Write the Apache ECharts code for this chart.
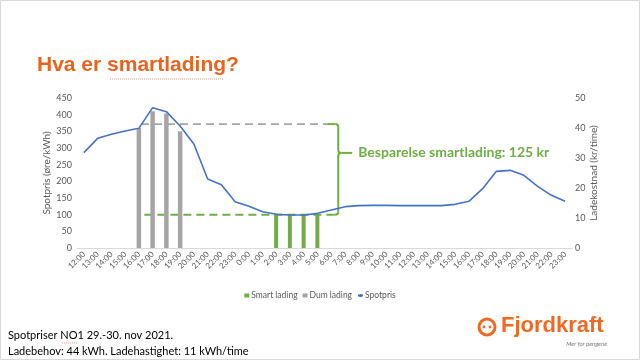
<!DOCTYPE html>
<html>
<head>
<meta charset="utf-8">
<script src="https://cdn.jsdelivr.net/npm/echarts@6/dist/echarts.min.js"></script>
<style>
html,body{margin:0;padding:0;background:#fff;}
#c{width:640px;height:361px;}
</style>
</head>
<body>
<div id="c"></div>
<script>
// ---- data ----
const hours = ['12:00','13:00','14:00','15:00','16:00','17:00','18:00','19:00','20:00','21:00','22:00','23:00',
  '0:00','1:00','2:00','3:00','4:00','5:00','6:00','7:00','8:00','9:00','10:00','11:00',
  '12:00','13:00','14:00','15:00','16:00','17:00','18:00','19:00','20:00','21:00','22:00','23:00'];
const spotpris = [286,329,341,351,359,421,409,366,312,207,190,139,
  125,109,101,99,99,104,114,124,127,128,128,127,
  127,127,127,131,140,178,230,233,218,185,158,140];
const smartLading = [null,null,null,null,null,null,null,null,null,null,null,null,
  null,null,11.1,11.1,11.1,11.1,null,null,null,null,null,null,
  null,null,null,null,null,null,null,null,null,null,null,null];
const dumLading = [null,null,null,null,40,45.6,44.8,38.9,null,null,null,null,
  null,null,null,null,null,null,null,null,null,null,null,null,
  null,null,null,null,null,null,null,null,null,null,null,null];
const leftTicks = {min:0, max:450, interval:50};
const rightTicks = {min:0, max:50, interval:10};
const avgDum = 41.3;     // kr/time level of gray dashed line
const avgSmart = 11.1;   // kr/time level of green dashed line
const savingText = 'Besparelse smartlading: 125 kr';

const GRAY = '#595959';
const FONT = 'Lato, "Liberation Sans", sans-serif';

const chart = echarts.init(document.getElementById('c'), null, {renderer:'canvas'});
chart.setOption({
  animation:false,
  textStyle:{fontFamily:FONT},
  grid:{left:77, right:68, top:98, bottom:113, containLabel:false},
  legend:{
    top:286, left:'center',
    itemWidth:5, itemHeight:4, itemGap:5,
    textStyle:{fontSize:8.5, color:GRAY, fontFamily:FONT, padding:[0,0,0,-3]},
    data:[{name:'Smart lading', icon:'rect'},{name:'Dum lading', icon:'rect'},{name:'Spotpris'}]
  },
  xAxis:{
    type:'category', data:hours, boundaryGap:true,
    axisLine:{lineStyle:{color:'#D9D9D9', width:1}},
    axisTick:{show:false},
    axisLabel:{rotate:45, interval:0, fontSize:8, color:GRAY, margin:5, fontFamily:FONT}
  },
  yAxis:[{
    type:'value', min:leftTicks.min, max:leftTicks.max, interval:leftTicks.interval,
    splitLine:{show:false}, axisLine:{show:false}, axisTick:{show:false},
    axisLabel:{fontSize:9, color:GRAY, margin:5, fontFamily:FONT},
    name:'Spotpris (øre/kWh)', nameLocation:'middle', nameRotate:90, nameGap:25, nameMoveOverlap:false,
    nameTextStyle:{fontSize:10, color:GRAY, fontFamily:FONT}
  },{
    type:'value', min:rightTicks.min, max:rightTicks.max, interval:rightTicks.interval,
    splitLine:{show:false}, axisLine:{show:false}, axisTick:{show:false},
    axisLabel:{fontSize:9, color:GRAY, margin:3, fontFamily:FONT},
    name:'Ladekostnad (kr/time)', nameLocation:'middle', nameRotate:90, nameGap:17, nameMoveOverlap:false,
    nameTextStyle:{fontSize:10, color:GRAY, fontFamily:FONT}
  }],
  series:[{
    name:'Smart lading', type:'bar', yAxisIndex:1, data:smartLading,
    barWidth:4, barGap:'-100%', itemStyle:{color:'#70AD47'}
  },{
    name:'Dum lading', type:'bar', yAxisIndex:1, data:dumLading,
    barWidth:4.5, itemStyle:{color:'#A5A5A5'}
  },{
    name:'Spotpris', type:'line', yAxisIndex:0, data:spotpris,
    showSymbol:false, symbol:'none', lineStyle:{color:'#4472C4', width:1.6}, itemStyle:{color:'#4472C4'}
  }]
});

// ---- annotation (positions from axis scales) ----
function pt(idx, val){
  const i0 = Math.floor(idx), f = idx - i0;
  const a = chart.convertToPixel({xAxisIndex:0, yAxisIndex:1}, [i0, val]);
  const b = chart.convertToPixel({xAxisIndex:0, yAxisIndex:1}, [i0+1, val]);
  return [a[0] + (b[0]-a[0])*f, a[1]];
}
const gA = pt(4.15, avgDum), gB = pt(17.7, avgDum);
const sA = pt(4.4, avgSmart), sB = pt(18.15, avgSmart);
const bx = pt(18.5, avgDum)[0];
const yTop = gA[1], yBot = sA[1];
const yMid = pt(18.5, 31.7)[1];
const G = '#70AD47';
const bStyle = {stroke:G, lineWidth:2, fill:null};

chart.setOption({
  graphic:[
    {type:'line', shape:{x1:gA[0], y1:gA[1], x2:gB[0], y2:gB[1]}, style:{stroke:'#A5A5A5', lineWidth:1.6, lineDash:[8,5]}, silent:true},
    {type:'line', shape:{x1:sA[0], y1:sA[1], x2:sB[0], y2:sB[1]}, style:{stroke:G, lineWidth:2, lineDash:[8,5]}, silent:true},
    // curly bracket
    {type:'line', shape:{x1:gB[0], y1:yTop, x2:bx-3, y2:yTop}, style:bStyle, silent:true},
    {type:'bezierCurve', shape:{x1:bx-3, y1:yTop, cpx1:bx, cpy1:yTop, x2:bx, y2:yTop+3}, style:bStyle, silent:true},
    {type:'line', shape:{x1:bx, y1:yTop+3, x2:bx, y2:yMid-3}, style:bStyle, silent:true},
    {type:'bezierCurve', shape:{x1:bx, y1:yMid-3, cpx1:bx, cpy1:yMid, x2:bx+3, y2:yMid}, style:bStyle, silent:true},
    {type:'bezierCurve', shape:{x1:bx+3, y1:yMid, cpx1:bx, cpy1:yMid, x2:bx, y2:yMid+3}, style:bStyle, silent:true},
    {type:'line', shape:{x1:bx, y1:yMid+3, x2:bx, y2:yBot-3}, style:bStyle, silent:true},
    {type:'bezierCurve', shape:{x1:bx, y1:yBot-3, cpx1:bx, cpy1:yBot, x2:bx-3, y2:yBot}, style:bStyle, silent:true},
    {type:'line', shape:{x1:bx-3, y1:yBot, x2:sB[0], y2:yBot}, style:bStyle, silent:true},
    {type:'line', shape:{x1:bx+3, y1:yMid, x2:bx+14, y2:yMid}, style:bStyle, silent:true},
    {type:'text', x:bx+20, y:yMid, style:{text:savingText, fill:G, font:'bold 14px '+FONT, textVerticalAlign:'middle'}, silent:true},
    // slide title
    {type:'text', left:37, top:55, style:{text:'Hva er smartlading?', fill:'#E8641E', font:'bold 21px "Liberation Sans", Arial, sans-serif'}, silent:true},
    {type:'line', shape:{x1:110, y1:79, x2:224, y2:79}, style:{stroke:'#D9A0A0', lineWidth:1, lineDash:[1,1]}, silent:true},
    // footer text
    {type:'text', left:8, top:330, style:{text:'Spotpriser NO1 29.-30. nov 2021.', fill:'#000', font:'11px '+FONT}, silent:true},
    {type:'line', shape:{x1:62, y1:343, x2:78, y2:343}, style:{stroke:'#D9A0A0', lineWidth:1, lineDash:[1,1]}, silent:true},
    {type:'text', left:8, top:346, style:{text:'Ladebehov: 44 kWh. Ladehastighet: 11 kWh/time', fill:'#000', font:'11px '+FONT}, silent:true},
    // logo
    {type:'circle', shape:{cx:487, cy:327, r:8}, style:{stroke:'#EE6A24', lineWidth:3, fill:null}, silent:true},
    {type:'circle', shape:{cx:484, cy:327, r:1.4}, style:{fill:'#EE6A24'}, silent:true},
    {type:'circle', shape:{cx:490, cy:327, r:1.4}, style:{fill:'#EE6A24'}, silent:true},
    {type:'text', left:501, top:315, style:{text:'Fjordkraft', fill:'#EE6A24', font:'bold 22px "Liberation Sans", Arial, sans-serif'}, silent:true},
    {type:'text', right:33, top:341, style:{text:'Mer for pengene', fill:'#777', font:'italic 6px '+FONT}, silent:true},
    // slide frame
    {type:'rect', shape:{x:0.5, y:0.5, width:639, height:359}, style:{stroke:'#D9D9D9', lineWidth:1, fill:null}, silent:true}
  ]
});
</script>
</body>
</html>
